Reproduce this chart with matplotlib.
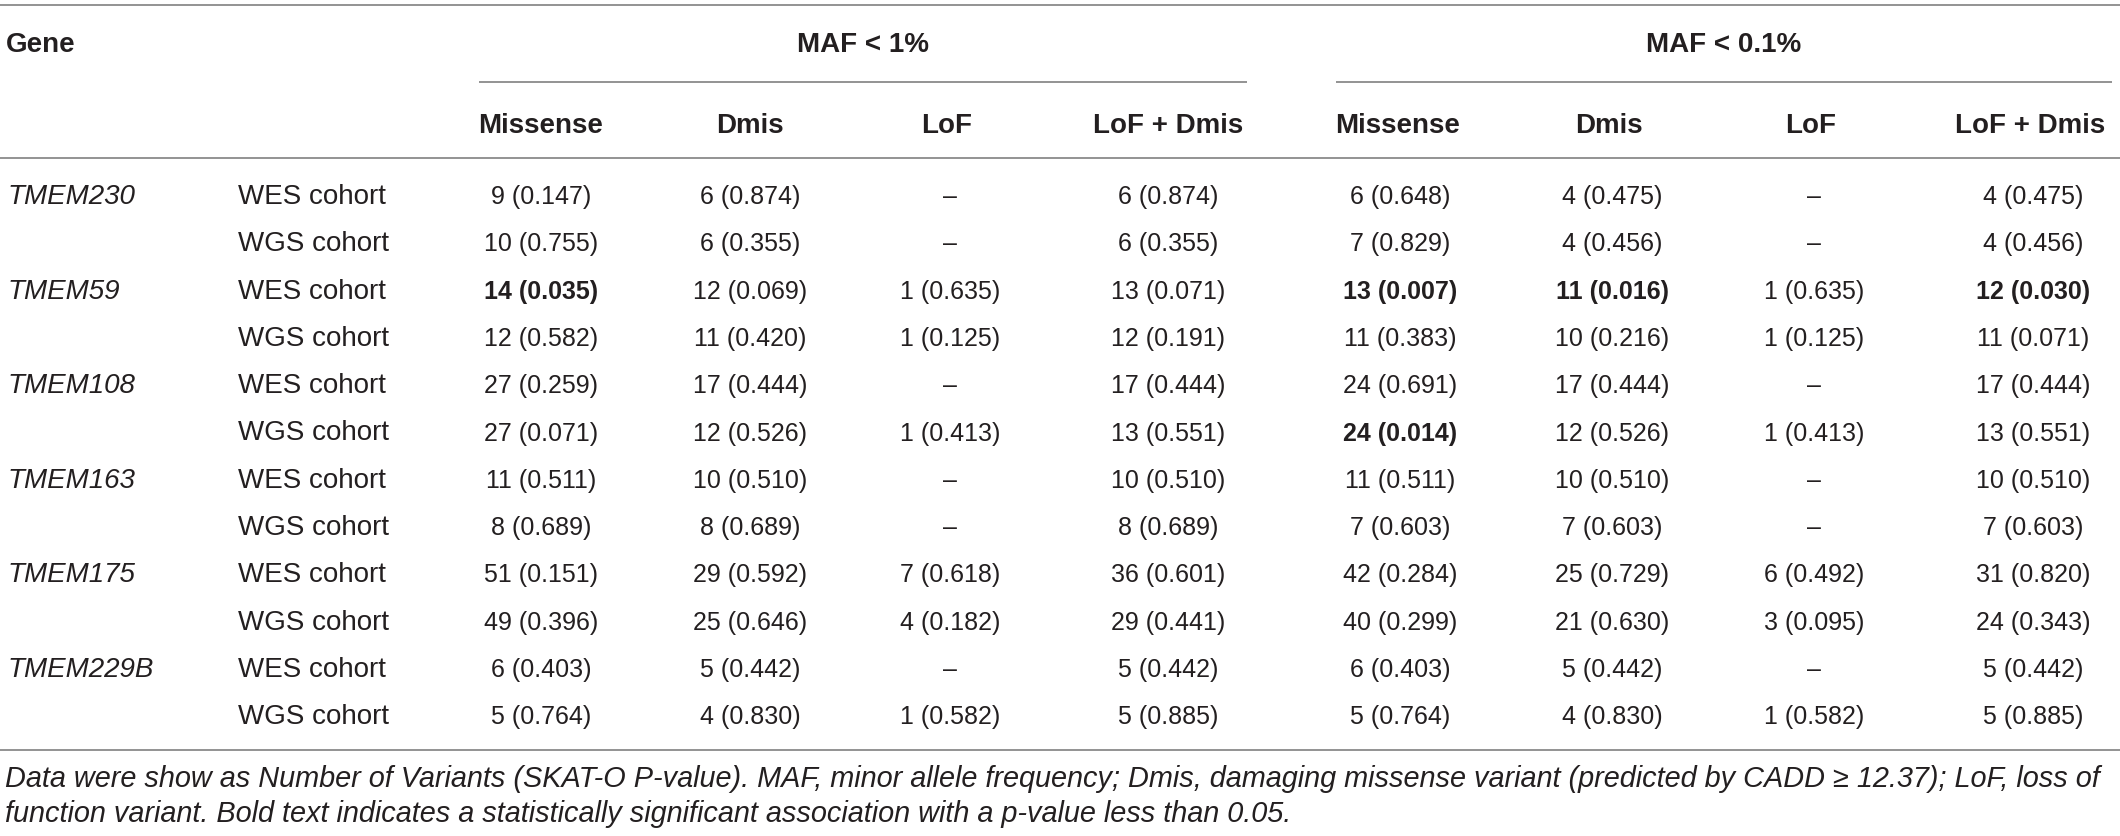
import matplotlib
matplotlib.use("Agg")
import matplotlib.pyplot as plt

# ---------------- data ----------------
genes = ["TMEM230", "TMEM59", "TMEM108", "TMEM163", "TMEM175", "TMEM229B"]
cohorts = ["WES cohort", "WGS cohort"]
groups = ["MAF < 1%", "MAF < 0.1%"]
col_names = ["Missense", "Dmis", "LoF", "LoF + Dmis"]

# counts / p-values, rows: gene x cohort (WES, WGS); None = "–"
maf1_missense_n = [9, 10, 14, 12, 27, 27, 11, 8, 51, 49, 6, 5]
maf1_missense_p = [0.147, 0.755, 0.035, 0.582, 0.259, 0.071, 0.511, 0.689, 0.151, 0.396, 0.403, 0.764]
maf1_dmis_n = [6, 6, 12, 11, 17, 12, 10, 8, 29, 25, 5, 4]
maf1_dmis_p = [0.874, 0.355, 0.069, 0.420, 0.444, 0.526, 0.510, 0.689, 0.592, 0.646, 0.442, 0.830]
maf1_lof_n = [None, None, 1, 1, None, 1, None, None, 7, 4, None, 1]
maf1_lof_p = [None, None, 0.635, 0.125, None, 0.413, None, None, 0.618, 0.182, None, 0.582]
maf1_lofdmis_n = [6, 6, 13, 12, 17, 13, 10, 8, 36, 29, 5, 5]
maf1_lofdmis_p = [0.874, 0.355, 0.071, 0.191, 0.444, 0.551, 0.510, 0.689, 0.601, 0.441, 0.442, 0.885]

maf01_missense_n = [6, 7, 13, 11, 24, 24, 11, 7, 42, 40, 6, 5]
maf01_missense_p = [0.648, 0.829, 0.007, 0.383, 0.691, 0.014, 0.511, 0.603, 0.284, 0.299, 0.403, 0.764]
maf01_dmis_n = [4, 4, 11, 10, 17, 12, 10, 7, 25, 21, 5, 4]
maf01_dmis_p = [0.475, 0.456, 0.016, 0.216, 0.444, 0.526, 0.510, 0.603, 0.729, 0.630, 0.442, 0.830]
maf01_lof_n = [None, None, 1, 1, None, 1, None, None, 6, 3, None, 1]
maf01_lof_p = [None, None, 0.635, 0.125, None, 0.413, None, None, 0.492, 0.095, None, 0.582]
maf01_lofdmis_n = [4, 4, 12, 11, 17, 13, 10, 7, 31, 24, 5, 5]
maf01_lofdmis_p = [0.475, 0.456, 0.030, 0.071, 0.444, 0.551, 0.510, 0.603, 0.820, 0.343, 0.442, 0.885]

footnote_lines = [
    "Data were show as Number of Variants (SKAT-O P-value). MAF, minor allele frequency; Dmis, "
    "damaging missense variant (predicted by CADD \u2265 12.37); LoF, loss of",
    "function variant. Bold text indicates a statistically significant association with a p-value less than 0.05.",
]
sig_level = 0.05

columns = [
    (maf1_missense_n, maf1_missense_p), (maf1_dmis_n, maf1_dmis_p),
    (maf1_lof_n, maf1_lof_p), (maf1_lofdmis_n, maf1_lofdmis_p),
    (maf01_missense_n, maf01_missense_p), (maf01_dmis_n, maf01_dmis_p),
    (maf01_lof_n, maf01_lof_p), (maf01_lofdmis_n, maf01_lofdmis_p),
]

# ---------------- layout ----------------
W, H = 2120, 836
fig = plt.figure(figsize=(W / 100, H / 100), dpi=100)
ax = fig.add_axes([0, 0, 1, 1])
ax.set_xlim(0, W)
ax.set_ylim(H, 0)
ax.axis("off")

FONT = "Liberation Sans"
TXT = "#231f20"
LINE = "#8a8a8a"
LW = 1.3
hdr_size = 20
lab_size = 20
dat_size = 18

col_x = [541, 750, 950, 1168, 1400, 1612, 1814, 2033]
head_x = [541, 750, 947, 1168, 1398, 1609, 1811, 2030]
group_x = [863, 1724]
group_line = [(479, 1247), (1336, 2112)]

y_top_line = 5
y_group_base = 52
y_sub_line = 82
y_head_base = 133
y_head_line = 158
y_row0 = 204
row_h = 47.3
y_bottom_line = 750
y_foot = [787, 822]

# rules
for y in (y_top_line, y_head_line, y_bottom_line):
    ax.plot([0, W], [y, y], color=LINE, lw=LW, solid_capstyle="butt")
for (x0, x1) in group_line:
    ax.plot([x0, x1], [y_sub_line, y_sub_line], color=LINE, lw=LW, solid_capstyle="butt")

# headers
ax.text(6, y_group_base, "Gene", ha="left", va="baseline", fontsize=hdr_size,
        fontweight="bold", family=FONT, color=TXT)
for gx, g in zip(group_x, groups):
    ax.text(gx, y_group_base, g, ha="center", va="baseline", fontsize=hdr_size,
            fontweight="bold", family=FONT, color=TXT)
for i, hx in enumerate(head_x):
    ax.text(hx, y_head_base, col_names[i % 4], ha="center", va="baseline",
            fontsize=hdr_size, fontweight="bold", family=FONT, color=TXT)

# rows
for gi, gene in enumerate(genes):
    for ci, coh in enumerate(cohorts):
        r = gi * 2 + ci
        yb = y_row0 + r * row_h
        if ci == 0:
            ax.text(7, yb, gene, ha="left", va="baseline", fontsize=lab_size,
                    style="italic", family=FONT, color=TXT)
        ax.text(238, yb, coh, ha="left", va="baseline", fontsize=lab_size,
                family=FONT, color=TXT)
        for k, (ns, ps) in enumerate(columns):
            n, p = ns[r], ps[r]
            if n is None:
                s, bold = "\u2013", False
            else:
                s, bold = f"{n} ({p:.3f})", p < sig_level
            ax.text(col_x[k], yb, s, ha="center", va="baseline", fontsize=dat_size,
                    fontweight="bold" if bold else "normal", family=FONT, color=TXT)

# footnote, fitted to the table width
renderer = fig.canvas.get_renderer()
t = ax.text(5, y_foot[0], footnote_lines[0], ha="left", va="baseline", fontsize=16,
            style="italic", family=FONT, color=TXT)
w = t.get_window_extent(renderer).width
fs = 16 * 2100 / w
t.set_fontsize(fs)
ax.text(5, y_foot[1], footnote_lines[1], ha="left", va="baseline", fontsize=fs,
        style="italic", family=FONT, color=TXT)

fig.savefig("out.png", dpi=100, facecolor="white")
